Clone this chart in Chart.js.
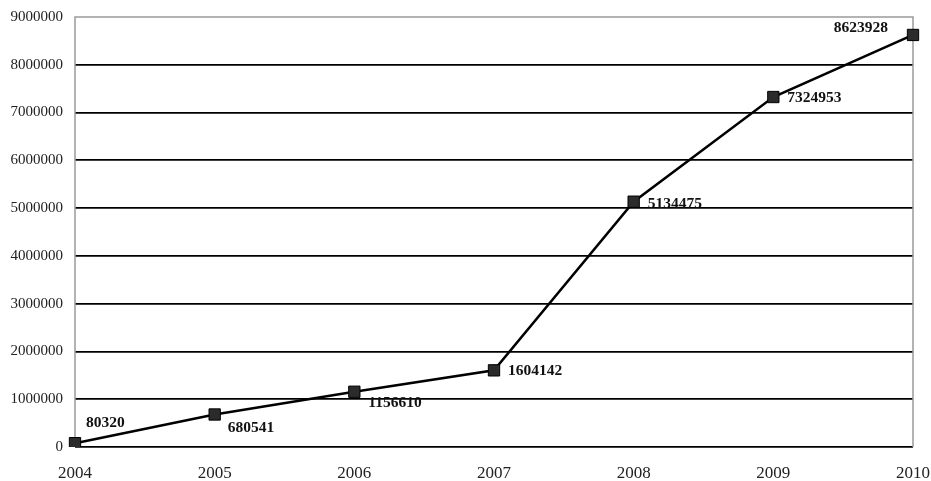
<!DOCTYPE html>
<html>
<head>
<meta charset="utf-8">
<script src="https://cdn.jsdelivr.net/npm/chart.js@4/dist/chart.umd.min.js"></script>
<style>
  html, body { margin: 0; padding: 0; background: #fff; }
  #wrap { width: 931px; height: 481px; }
</style>
</head>
<body>
<div id="wrap"><canvas id="chart"></canvas></div>
<script>
const years = ['2004', '2005', '2006', '2007', '2008', '2009', '2010'];
const values = [80320, 680541, 1156610, 1604142, 5134475, 7324953, 8623928];
const yMax = 9000000;
const yStep = 1000000;

// where each value label sits relative to its marker
const labelOffsets = [
    { dx: 11, dy: -20, align: 'left' },
    { dx: 13, dy: 14, align: 'left' },
    { dx: 14, dy: 11, align: 'left' },
    { dx: 14, dy: 1, align: 'left' },
    { dx: 14, dy: 2, align: 'left' },
    { dx: 14, dy: 1, align: 'left' },
    { dx: -25, dy: -7, align: 'right' }
];

const serif = "'Liberation Serif', 'Times New Roman', serif";

// gray frame around the plot area
const framePlugin = {
    id: 'frame',
    beforeDatasetsDraw(chart) {
        const { ctx, chartArea: a } = chart;
        ctx.save();
        ctx.strokeStyle = '#9a9a9a';
        ctx.lineWidth = 1.5;
        ctx.beginPath();
        ctx.moveTo(a.left, a.bottom);
        ctx.lineTo(a.left, a.top);
        ctx.lineTo(a.right, a.top);
        ctx.lineTo(a.right, a.bottom);
        ctx.stroke();
        ctx.restore();
    }
};

// bold value labels next to each point
const valueLabels = {
    id: 'valueLabels',
    afterDatasetsDraw(chart) {
        const { ctx } = chart;
        const meta = chart.getDatasetMeta(0);
        ctx.save();
        ctx.font = 'bold 15.5px ' + serif;
        ctx.fillStyle = '#111';
        ctx.textBaseline = 'middle';
        meta.data.forEach((pt, i) => {
            const o = labelOffsets[i];
            ctx.textAlign = o.align;
            ctx.fillText(String(values[i]), pt.x + o.dx, pt.y + o.dy);
        });
        ctx.restore();
    }
};

new Chart(document.getElementById('chart'), {
    type: 'line',
    data: {
        labels: years,
        datasets: [{
            data: values,
            borderColor: '#000',
            borderWidth: 2.5,
            tension: 0,
            pointStyle: 'rect',
            pointRadius: 8,
            pointBackgroundColor: '#2b2b2b',
            pointBorderColor: '#000',
            pointBorderWidth: 1
        }]
    },
    options: {
        responsive: true,
        maintainAspectRatio: false,
        animation: false,
        layout: { padding: { top: 17, right: 18, left: 0, bottom: 0 } },
        plugins: {
            legend: { display: false },
            tooltip: { enabled: false }
        },
        scales: {
            x: {
                offset: false,
                grid: { display: false },
                border: { display: false },
                ticks: {
                    color: '#222',
                    font: { family: serif, size: 17 },
                    padding: 8,
                    maxRotation: 0,
                    autoSkip: false
                },
                afterFit(scale) {
                    scale.height = 34;
                    scale.paddingLeft = 0;
                    scale.paddingRight = 0;
                }
            },
            y: {
                min: 0,
                max: yMax,
                ticks: {
                    stepSize: yStep,
                    color: '#222',
                    font: { family: serif, size: 15 },
                    padding: 12,
                    callback: v => String(v)
                },
                grid: {
                    color: ctx => ctx.tick && ctx.tick.value === yMax ? 'rgba(0,0,0,0)' : '#000',
                    lineWidth: 1.8,
                    drawTicks: false
                },
                border: { display: false },
                afterFit(scale) {
                    scale.width = 75;
                    scale.paddingTop = 0;
                    scale.paddingBottom = 0;
                }
            }
        }
    },
    plugins: [framePlugin, valueLabels]
});
</script>
</body>
</html>
